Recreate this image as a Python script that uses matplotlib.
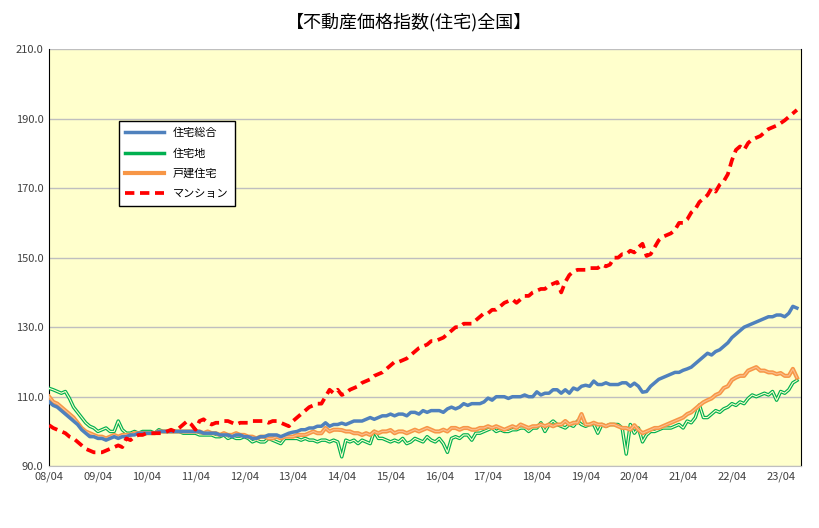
import numpy as np
import matplotlib.pyplot as plt

plt.rcParams['font.family'] = ['Noto Sans CJK JP', 'DejaVu Sans']

# monthly index values, 2008/04 - 2023/08 (one row per fiscal year Apr-Mar)
total = [
    108.5, 107.5, 107, 106, 105, 104, 103, 102, 100.5, 99.5, 98.5, 98.5,
    98, 98, 97.5, 98, 98.5, 98, 98.5, 98.5, 99, 99, 99.5, 99.5,
    99.5, 99.5, 99.5, 100, 100, 100, 100, 100, 100, 100, 100, 100,
    100, 100, 99.5, 99.5, 99.5, 99.5, 99, 99, 99, 98.5, 99, 99,
    98.5, 98.5, 98, 98, 98.5, 98.5, 99, 99, 99, 98.5, 99, 99.5,
    99.8, 100, 100.5, 100.5, 101, 101, 101.5, 101.5, 102.5, 101.5, 102, 102,
    102.4, 102, 102.5, 103, 103, 103, 103.5, 104, 103.5, 104, 104.5, 104.5,
    105, 104.5, 105, 105, 104.5, 105.5, 105.5, 105, 106, 105.5, 106, 106,
    106, 105.5, 106.5, 107, 106.5, 107, 108, 107.5, 108, 108, 108, 108.5,
    109.6, 109, 110, 110, 110, 109.5, 110, 110, 110, 110.5, 110, 110,
    111.4, 110.5, 111, 111, 112, 112, 111, 112, 111, 112.5, 112, 113,
    113.3, 113, 114.5, 113.5, 113.5, 114, 113.5, 113.5, 113.5, 114, 114, 113,
    113.9, 113, 111.3, 111.5, 113, 114, 115, 115.5, 116, 116.5, 117, 117,
    117.6, 118, 118.5, 119.5, 120.5, 121.5, 122.5, 122, 123, 123.5, 124.5, 125.5,
    127, 128, 129, 130, 130.5, 131, 131.5, 132, 132.5, 133, 133, 133.5,
    133.5, 133, 134, 136, 135.5,
]
land = [
    112.4, 112, 111.5, 111, 111.5, 109.5, 107, 105.5, 104, 102.5, 101.5, 101,
    100, 100.5, 101, 100, 100, 103, 100.5, 99.5, 99.5, 100, 99.5, 100,
    100, 100, 99.5, 100.5, 100, 100, 100, 100, 100, 99.5, 99.5, 99.5,
    99.5, 99, 99, 99, 99, 98.5, 98.5, 99, 98, 98.5, 98, 98,
    98.5, 98, 97, 97.5, 97, 97, 98, 97.5, 97, 96.5, 98, 98,
    98, 98, 97.5, 98, 97.5, 97.5, 97, 97.5, 97.5, 97, 97.5, 97,
    92.7, 97.5, 97, 97.5, 96.5, 97.5, 97, 96.5, 100, 98, 98, 97.5,
    97, 97.5, 97, 98, 96.5, 97, 98, 97.5, 97, 98.5, 97.5, 97,
    98, 96.5, 94, 98, 98.5, 98, 99, 99, 97.5, 99.5, 99.5, 100,
    100.5, 101, 100, 100.5, 100, 100, 100.5, 100.5, 101, 101, 100, 101,
    101, 102.5, 100, 102, 103, 102, 101.5, 101, 102, 101.5, 103, 102,
    101.5, 102, 102, 99.5, 102, 101.5, 102, 102, 102, 101, 93.5, 102,
    99.5, 101, 97, 99, 100, 100, 100.5, 101, 101, 101, 101.5, 102,
    101, 103, 102.5, 104, 107.6, 104, 104, 105, 106, 105.5, 106.5, 107,
    108, 107.5, 108.5, 108, 109.5, 110.5, 110, 110.5, 111, 110.5, 111.5, 109,
    111.5, 111, 112, 114, 114.7,
]
house = [
    110, 108.5, 108, 107, 106, 105, 104, 102.5, 101, 100, 99.5, 99,
    98.5, 98.5, 98, 98.5, 99, 98.5, 99, 99, 99, 99.5, 99.5, 99.5,
    99.5, 99.5, 99.5, 100, 100, 100, 100, 100, 100, 100, 100, 100,
    100, 100, 99.5, 100, 99.5, 99.5, 99, 99.5, 99, 99, 99.5, 99,
    99, 98.5, 98.5, 98, 98.5, 98.5, 98, 98, 98.5, 98, 98.5, 98.5,
    98.5, 99, 99, 99, 99.5, 100, 99.5, 99.5, 101, 100, 100.5, 100.5,
    100.4, 100, 100, 99.5, 99.5, 99, 99.5, 99, 100, 99.5, 100, 100,
    100.4, 99.5, 100, 100, 99.5, 100, 100.5, 100, 100.5, 101, 100.5, 100,
    100, 100.5, 100, 101, 101, 100.5, 101, 101, 100.5, 100.5, 101, 101,
    101.5, 101, 101.5, 101, 100.5, 101, 101.5, 101, 102, 101.5, 101, 101.5,
    101.5, 102, 101.5, 102, 101.5, 102, 102, 103, 102, 102.5, 102.5, 105,
    102, 102, 102.5, 102, 102, 101.5, 102, 102, 101.5, 101, 101, 100.5,
    101.8, 100.5, 99.5, 100, 100.5, 101, 101, 101.5, 102, 102.5, 103, 103.5,
    104, 105, 105.5, 106.5, 107.5, 108.4, 109, 109.5, 110.5, 111, 112.5, 113,
    114.8, 115.5, 116, 116, 117.5, 118, 118.5, 117.5, 117.5, 117, 117, 116.5,
    116.8, 116, 116, 118, 115.5,
]
condo = [
    101.8, 101, 100.5, 100, 99.5, 98.5, 98, 97, 96, 95, 94.5, 94,
    94, 94, 94.5, 95, 95.5, 96, 95.5, 98, 97.5, 98.5, 99, 99,
    99.5, 99.5, 99.5, 99.5, 99.5, 100, 100.5, 100, 101, 102, 103, 102,
    100.5, 103, 103.5, 102.5, 102, 102.5, 102.5, 103, 103, 102.5, 102, 102.5,
    102.5, 102.5, 103, 103, 103, 103, 102.5, 103, 103, 102.5, 102, 101.5,
    103, 104, 105, 106, 107, 107.5, 108, 108, 110, 112, 111, 112,
    110.5, 111, 112, 112.5, 113, 114, 114.5, 115, 116, 116.5, 117, 118,
    119, 120, 120, 120.5, 121, 122, 123, 124, 124.5, 125, 126, 126,
    126.5, 127, 128, 129, 130, 130, 131, 131, 131, 132, 133, 134,
    134, 135, 135, 136, 137, 137.5, 138, 137, 138, 139, 139, 140,
    140.5, 141, 141, 142, 142.5, 143, 140, 143, 145, 146, 146.5, 146.5,
    146.5, 147, 147, 147, 148, 147.5, 148, 150, 150, 151, 151, 152,
    151.5, 153, 154, 150.5, 151, 153, 155, 156, 156.5, 157, 158, 160,
    160, 161, 163, 164, 166, 167, 168, 170, 169, 171, 172, 174,
    178, 181, 182, 181, 183, 184, 184.5, 185, 186, 187, 187.5, 188,
    188.7, 189.5, 190.5, 191.5, 192.5,
]
tick_labels = ['08/04', '09/04', '10/04', '11/04', '12/04', '13/04', '14/04', '15/04',
               '16/04', '17/04', '18/04', '19/04', '20/04', '21/04', '22/04', '23/04']

x = np.arange(len(total))

fig = plt.figure(figsize=(8.19, 5.28), dpi=100)
ax = fig.add_axes([0.06, 0.117, 0.918, 0.79])
ax.set_facecolor('#FFFFCC')

ax.plot(x, total, color='#4F81BD', lw=2.5, label='住宅総合', zorder=4)
ax.plot(x, land, color='#00B050', lw=2.5, zorder=3, label='住宅地')
ax.plot(x, land, color='#FFFFCC', lw=0.8, zorder=3)
ax.plot(x, house, color='#F79646', lw=3, zorder=3.5, label='戸建住宅')
ax.plot(x, house, color='#FAC090', lw=0.8, zorder=3.5)
ax.plot(x, condo, color='#FF0000', lw=2.7, ls=(0, (2.5, 1.5)), label='マンション', zorder=5)

ax.set_ylim(90, 210)
ax.set_yticks(np.arange(90, 211, 20))
ax.set_yticklabels([f'{v:.1f}' for v in np.arange(90, 211, 20)], fontsize=8)
ax.set_xlim(0, 185)
ax.set_xticks(np.arange(0, 185, 12))
ax.set_xticklabels(tick_labels, fontsize=8)
ax.tick_params(axis='both', length=0, pad=4, colors='#404040')
ax.grid(axis='y', color='#BFBFBF', lw=1)
ax.set_axisbelow(True)
for s in ['left', 'right']:
    ax.spines[s].set_color('black')
ax.spines['top'].set_visible(False)
ax.spines['bottom'].set_color('#BFBFBF')

leg = ax.legend(loc='upper left', bbox_to_anchor=(0.085, 0.84), fontsize=8,
                frameon=True, fancybox=False, edgecolor='black', framealpha=1,
                handlelength=3.5, borderpad=0.6, labelspacing=0.9)
leg.get_frame().set_linewidth(1)

fig.suptitle('【不動産価格指数(住宅)全国】', fontsize=13, y=0.975)
fig.savefig('out.png', dpi=100)
